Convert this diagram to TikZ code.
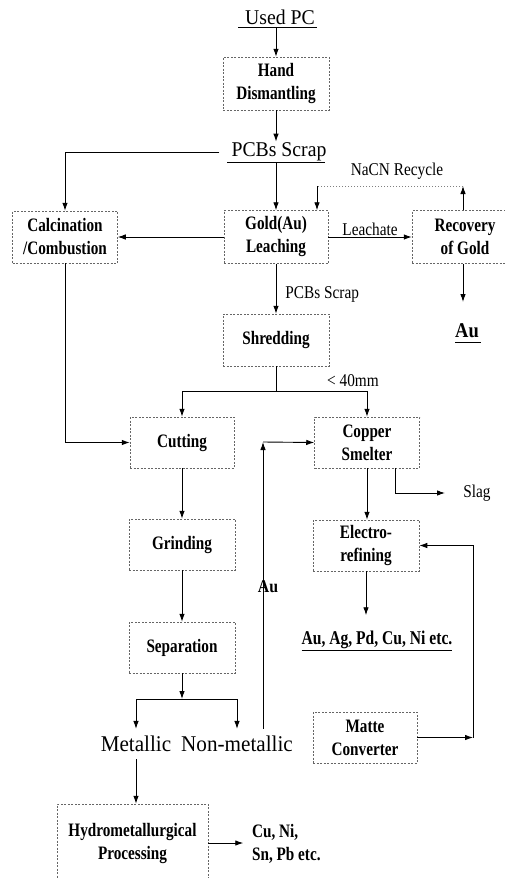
\documentclass[tikz,border=0pt]{standalone}
\usepackage{fontspec}
\setmainfont{Liberation Serif}
\newfontfamily\condb[FakeStretch=0.8]{Liberation Serif}
\newfontfamily\condr[FakeStretch=0.85]{Liberation Serif}
\newfontfamily\condbig[FakeStretch=0.94]{Liberation Serif}
\newfontfamily\condau[FakeStretch=0.88]{Liberation Serif}
\usetikzlibrary{arrows.meta}
\tikzset{
  box/.style={draw=black!60, dash pattern=on 2pt off 1.5pt, line width=0.5pt, align=center, inner sep=0pt,
    font=\condb\bfseries\fontsize{19}{23}\selectfont},
  ln/.style={line width=0.9pt},
  ar/.style={ln, -{Latex[length=8pt,width=5.5pt]}},
  lbl/.style={font=\condr\fontsize{18}{20}\selectfont, inner sep=0pt},
  big/.style={font=\condbig\fontsize{21}{24}\selectfont, inner sep=0pt},
  blbl/.style={font=\condb\bfseries\fontsize{19}{23}\selectfont, inner sep=0pt, align=left},
  faint/.style={draw=black!50, line width=0.6pt, dash pattern=on 1pt off 2pt},
}
\begin{document}
\begin{tikzpicture}[x=1pt,y=-1pt]
\useasboundingbox (0,0) rectangle (504,878);

% top titles
\node[big] (used) at (280,17) {Used PC};
\coordinate (u1) at (238,27); \coordinate (u2) at (317,27);
\draw[ln] (u1) -- (u2);

\node[box, minimum width=106pt, minimum height=53pt] (hand) at (276,83.5) {Hand\\Dismantling};
\draw[ar] (hand.north |- u1) -- (hand.north);

\node[big] (pcbs) at (279,152) {PCBs Scrap};
\coordinate (p1) at (227,162); \coordinate (p2) at (325,162);
\draw[ln] (p1) -- (p2);
\draw[ar] (hand.south) -- ([yshift=1pt]pcbs.north -| hand.south);

% second row
\node[box, minimum width=105pt, minimum height=52pt] (calc) at (65,237) {Calcination\\/Combustion};
\node[box, minimum width=104pt, minimum height=53pt] (leach) at (276,237) {Gold(Au)\\Leaching};
\node[box, minimum width=106pt, minimum height=53pt] (recov) at (465,237) {Recovery\\of Gold};

\draw[ar] ([xshift=-12pt]pcbs.west) -| (calc.north);
\draw[ar] (leach.north |- p1) -- (leach.north);
\draw[ar] (leach.west) -- (calc.east);
\draw[ar] (leach.east) -- (recov.west) node[midway, above=1pt, lbl] {Leachate};

\node[lbl] (nacn) at (397,171) {NaCN Recycle};
\coordinate (rc1) at (463,186); \coordinate (rc2) at (317,186);
\draw[ar] (rc1 |- recov.north) -- (rc1);
\draw[faint] (rc1) -- (rc2);
\draw[ar] (rc2) -- (rc2 |- leach.north);

\node[font=\condau\bfseries\fontsize{21}{24}\selectfont, inner sep=0pt] (au) at (467,331) {Au};
\coordinate (a1) at (455,342); \coordinate (a2) at (481,342);
\draw[ln] (a1) -- (a2);
\coordinate (auT) at (463,302);
\draw[ar] (auT |- recov.south) -- (auT);

% shredding
\node[box, minimum width=106pt, minimum height=52pt] (shred) at (276,340) {Shredding};
\draw[ar] (leach.south) -- (shred.north) node[lbl, pos=0.62, right=9pt] {PCBs Scrap};

\node[box, minimum width=104pt, minimum height=51pt] (cut) at (182,442.5) {Cutting};
\node[box, minimum width=105pt, minimum height=51pt] (cs) at (367,442.5) {Copper\\Smelter};

\coordinate (sj) at (276,391);
\draw[ln] (shred.south) -- (sj);
\draw[ar] (sj) -| (cut.north);
\draw[ar] (sj) -| (cs.north);
\node[lbl] (mm) at (353,381) {< 40mm};

\draw[ar] (calc.south) |- (cut.west);

% left column
\node[box, minimum width=106pt, minimum height=51pt] (grind) at (182,544.5) {Grinding};
\node[box, minimum width=106pt, minimum height=51pt] (sep) at (182,647.5) {Separation};
\draw[ar] (cut.south) -- (grind.north);
\draw[ar] (grind.south) -- (sep.north);

\node[font=\condbig\fontsize{22.5}{24}\selectfont, inner xsep=0pt, inner ysep=7pt] (met) at (136,744) {Metallic};
\node[font=\condbig\fontsize{22.5}{24}\selectfont, inner xsep=0pt, inner ysep=7pt] (nonmet) at (237,744) {Non-metallic};
\coordinate (sp) at (182,699);
\draw[ar] (sep.south) -- (sp);
\draw[ar] (sp) -| (met.north);
\draw[ar] (sp) -| (nonmet.north);

\coordinate (ac) at (263,442);
\draw[ar] (ac |- nonmet.north) -- (ac);
\draw[ar] (ac) -- (cs.west);
\node[font=\condau\bfseries\fontsize{18}{20}\selectfont, inner sep=0pt] (aulbl) at (268,587) {Au};

% right column
\node[box, minimum width=106pt, minimum height=51pt] (elec) at (366,545.5) {Electro-\\refining};
\draw[ar] (cs.south) -- (cs.south |- elec.north);

\coordinate (sl) at (395,493); \coordinate (slE) at (445,493);
\draw[ar] (sl |- cs.south) |- (slE);
\node[lbl] (slag) at (477,493) {Slag};

\node[blbl, font=\condb\bfseries\fontsize{19.5}{23}\selectfont] (metals) at (377,641) {\underline{Au, Ag, Pd, Cu, Ni etc.}};
\draw[ar] (elec.south) -- ++(0,44);

\node[box, minimum width=104pt, minimum height=51pt] (matte) at (365,737.5) {Matte\\Converter};
\coordinate (mc) at (473,737.5);
\draw[ar] (matte.east) -- (mc);
\draw[ar] (mc) |- (elec.east);

% bottom
\node[box, minimum width=151pt, minimum height=78pt] (hydro) at (132.5,843) {Hydrometallurgical\\Processing};
\draw[ar] (met.south) -- (met.south |- hydro.north);
\draw[ar] (hydro.east) -- ++(35,0);
\node[blbl, anchor=west] (cuni) at (252,843.5) {Cu, Ni,\\Sn, Pb etc.};
\end{tikzpicture}
\end{document}
